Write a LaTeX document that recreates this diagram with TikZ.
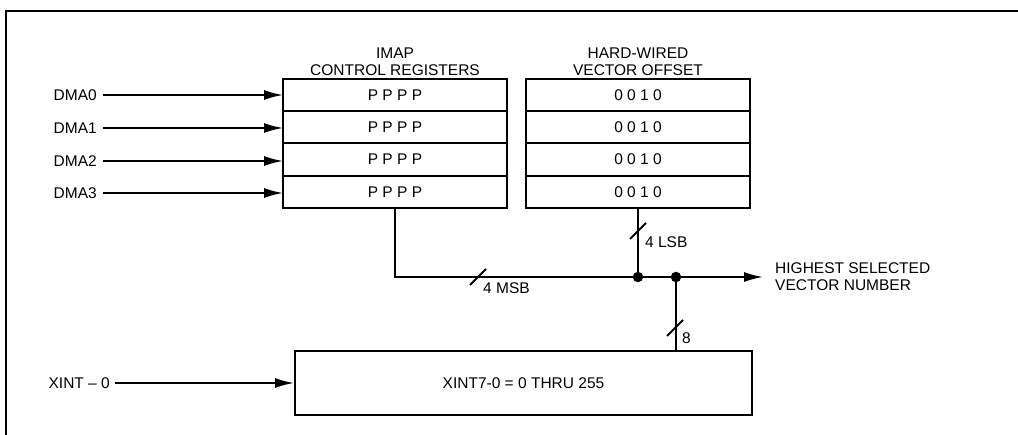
\documentclass[tikz,border=0pt]{standalone}
\usepackage{fontspec}
\setmainfont{Liberation Sans}
\usetikzlibrary{arrows.meta,positioning}

\begin{document}
\begin{tikzpicture}[x=1pt, y=1pt, font=\fontsize{15.5}{17}\selectfont,
  reg/.style={draw, line width=2pt, outer sep=0pt, inner sep=0pt,
    minimum width=224pt, minimum height=32.25pt},
  lbl/.style={inner sep=0pt},
  bus/.style={line width=1.8pt},
  sig/.style={bus, -{Latex[length=19pt, width=10pt]}},
  junc/.style={circle, fill, inner sep=0pt, minimum size=10.5pt},
  width mark/.style={line width=1.8pt}]
\useasboundingbox (0,0) rectangle (1018,434);

% Frame
\draw[line width=2.5pt] (6,-10) |- (1030,423);

% IMAP control registers
\node[reg] (imap0) at (395,338.9) {P P P P};
\foreach \i [count=\j from 0] in {1,2,3}
  \node[reg, below=0pt of imap\j] (imap\i) {P P P P};
\node[lbl, align=center, above=3pt of imap0] (imaphd) {IMAP\\CONTROL REGISTERS};

% Hard-wired vector offset
\node[reg] (off0) at (638,338.9) {0 0 1 0};
\foreach \i [count=\j from 0] in {1,2,3}
  \node[reg, below=0pt of off\j] (off\i) {0 0 1 0};
\node[lbl, align=center, above=3pt of off0] (offhd) {HARD-WIRED\\VECTOR OFFSET};

% DMA inputs
\foreach \i/\y in {0/339,1/306,2/273,3/241}
  \node[lbl, anchor=east, inner xsep=6pt] (dma\i) at (103,\y) {DMA\i};
\foreach \i in {0,1,2,3}
  \draw[sig] (dma\i.east) -- (dma\i.east -| imap\i.west);

% Interrupt block
\node[draw, line width=2pt, minimum width=457pt, minimum height=64pt, inner sep=0pt]
  (xint) at (523.5,51) {XINT7-0 = 0 THRU 255};
\node[lbl, anchor=east, inner xsep=5pt] (xin) at (115,51) {XINT -- 0};
\draw[sig] (xin.east) -- (xint.west);

% Vector number bus
\node[lbl, align=left, anchor=west, inner xsep=12pt] (vecout) at (763,157)
  {HIGHEST SELECTED\\VECTOR NUMBER};
\node[junc] (j1) at (638,157) {};
\node[junc] (j2) at (676,157) {};
\draw[sig] (imap3.south) |- (vecout.west);
\draw[bus] (off3.south -| j1) -- (j1);
\draw[bus] (xint.north -| j2) -- (j2);

% Bus widths
\draw[width mark] (630,195) -- ++(16,16);
\node[lbl, anchor=west] (lsb) at (645,192) {4 LSB};
\draw[width mark] (470,149) -- ++(16,16);
\node[lbl, anchor=west] (msb) at (483,146) {4 MSB};
\draw[width mark] (667,98) -- ++(16,16);
\node[lbl, anchor=west] (eight) at (682,96) {8};
\end{tikzpicture}
\end{document}
